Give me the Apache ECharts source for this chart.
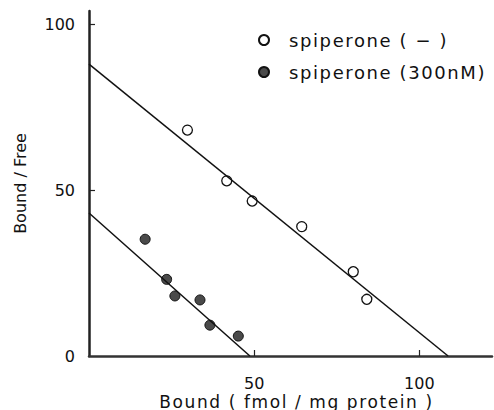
<!DOCTYPE html>
<html>
<head>
<meta charset="utf-8">
<script src="https://cdn.jsdelivr.net/npm/echarts@6/dist/echarts.min.js"></script>
<style>
  html, body { margin: 0; padding: 0; background: #fff; }
  #chart { width: 494px; height: 410px; }
  /* wider tracking for the legend (18px) and x-axis title (17px) text */
  #chart text[style*="18px"], #chart text[style*="17px"],
  #chart text[font-size="18"], #chart text[font-size="17"] { letter-spacing: 1.6px; }
</style>
</head>
<body>
<div id="chart"></div>
<script>
// Scatchard plot: bound (fmol / mg protein) vs bound / free
const controlBound = [29.8, 41.7, 49.4, 64.4, 80.0, 84.1];
const controlRatio = [68.1, 52.8, 46.7, 39.0, 25.4, 17.1];
const spiperoneBound = [17.0, 23.5, 26.0, 33.6, 36.6, 45.2];
const spiperoneRatio = [35.2, 23.1, 18.1, 16.9, 9.3, 6.0];

// fitted lines, given by their axis intercepts [bound, bound/free]
const controlFit = [[0, 88.0], [108.7, 0]];
const spiperoneFit = [[0, 43.1], [48.7, 0]];

const seriesNames = ['spiperone ( − )', 'spiperone (300nM)'];
const xTickValues = [50, 100];
const yTickValues = [50, 100];
const yLabelValues = [0, 50, 100];

const FONT = 'DejaVu Sans';
const INK = '#111';

const zip = (xs, ys) => xs.map((x, i) => [x, ys[i]]);

const chart = echarts.init(document.getElementById('chart'), null, { renderer: 'svg' });

chart.setOption({
  animation: false,
  backgroundColor: '#fff',
  grid: { left: 89, top: 11, width: 403, height: 345, outerBoundsMode: 'none', containLabel: false },
  legend: {
    orient: 'vertical',
    left: 253,
    top: 26,
    itemWidth: 30,
    itemHeight: 10,
    itemGap: 14,
    icon: 'circle',
    data: seriesNames,
    textStyle: { fontFamily: FONT, fontSize: 18, color: INK, padding: [0, 0, 0, 5] }
  },
  xAxis: {
    type: 'value',
    min: 0,
    max: 122,
    interval: 50,
    name: 'Bound ( fmol / mg protein )',
    nameLocation: 'middle',
    nameGap: 37,
    nameMoveOverlap: false,
    nameTextStyle: { fontFamily: FONT, fontSize: 17, color: INK, padding: [0, 0, 0, 12] },
    axisLine: { lineStyle: { color: '#333', width: 2.5 } },
    axisTick: { show: true, inside: true, length: 6, customValues: xTickValues, lineStyle: { color: '#222', width: 1.2 } },
    axisLabel: { customValues: xTickValues, margin: 19, fontFamily: FONT, fontSize: 16, color: INK },
    splitLine: { show: false }
  },
  yAxis: {
    type: 'value',
    min: 0,
    max: 104,
    interval: 50,
    name: 'Bound / Free',
    nameLocation: 'middle',
    nameGap: 61,
    nameMoveOverlap: false,
    nameTextStyle: { fontFamily: FONT, fontSize: 16, color: INK },
    axisLine: { lineStyle: { color: '#222', width: 2.5 } },
    axisTick: { show: true, inside: true, length: 6, customValues: yTickValues, lineStyle: { color: '#222', width: 1.2 } },
    axisLabel: { customValues: yLabelValues, margin: 14, fontFamily: FONT, fontSize: 16, color: INK },
    splitLine: { show: false }
  },
  series: [
    {
      type: 'line',
      data: controlFit,
      symbol: 'none',
      silent: true,
      lineStyle: { color: INK, width: 1.5 }
    },
    {
      type: 'line',
      data: spiperoneFit,
      symbol: 'none',
      silent: true,
      lineStyle: { color: INK, width: 1.5 }
    },
    {
      name: seriesNames[0],
      type: 'scatter',
      data: zip(controlBound, controlRatio),
      symbol: 'circle',
      symbolSize: 10,
      itemStyle: { color: '#fff', borderColor: INK, borderWidth: 1.3, opacity: 1 }
    },
    {
      name: seriesNames[1],
      type: 'scatter',
      data: zip(spiperoneBound, spiperoneRatio),
      symbol: 'circle',
      symbolSize: 10,
      itemStyle: { color: '#4a4a4a', borderColor: INK, borderWidth: 1, opacity: 1 }
    }
  ]
});
</script>
</body>
</html>
